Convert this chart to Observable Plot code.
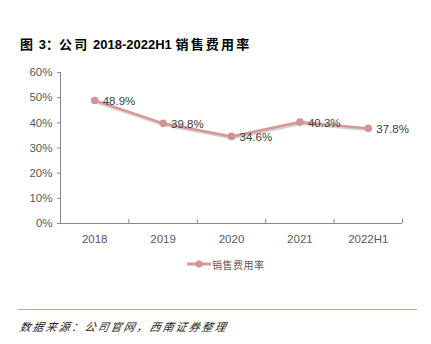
<!DOCTYPE html>
<html><head><meta charset="utf-8">
<script src="https://cdn.jsdelivr.net/npm/d3@7"></script>
<script src="https://cdn.jsdelivr.net/npm/@observablehq/plot@0.6"></script>
<style>
body{margin:0;background:#fff;width:431px;height:344px;overflow:hidden;position:relative;font-family:"Liberation Sans",Arial,sans-serif;}
#title{position:absolute;left:20px;top:34px;font-size:13px;font-weight:bold;color:#000;font-family:"Liberation Sans","Noto Sans CJK SC",sans-serif;white-space:nowrap}
#title .cj{letter-spacing:2.2px}
.hr{position:absolute;left:18px;width:399px;height:0;border-top:1.5px solid #dfa45e}
#chart{position:absolute;left:0;top:62px}
#legend{position:absolute;left:186px;top:256px;font-size:10px;color:#595959;font-family:"Noto Sans CJK SC",sans-serif;display:flex;align-items:center;letter-spacing:0.5px}
#source{position:absolute;left:20px;top:318px;font-size:11px;font-style:italic;color:#222;font-family:"Noto Sans CJK SC",sans-serif;letter-spacing:2px;transform:skewX(-12deg);transform-origin:left}
</style></head>
<body>
<div id="title"><span class="cj">图</span> 3：<span class="cj">公司</span> 2018-2022H1 <span class="cj">销售费用率</span></div>
<div class="hr" style="top:63px"></div>
<div id="chart"></div>
<div id="legend"><svg width="26" height="16"><line x1="1" y1="8" x2="25" y2="8" stroke="#d99694" stroke-width="3"/><circle cx="13" cy="8" r="3.5" fill="#d49391"/></svg><span>销售费用率</span></div>
<div class="hr" style="top:309px"></div>
<div id="source">数据来源：公司官网，西南证券整理</div>
<script>
const categories = ["2018","2019","2020","2021","2022H1"];
const values = [0.489, 0.398, 0.346, 0.403, 0.378];
const yTicks = [0, 0.1, 0.2, 0.3, 0.4, 0.5, 0.6];

const data = categories.map((c, i) => ({i, c, v: values[i]}));
const bounds = d3.range(categories.length + 1).map(k => k - 0.5);
const axisColor = "#898989";

const plot = Plot.plot({
  width: 431,
  height: 200,
  marginTop: 10,
  marginBottom: 39,
  marginLeft: 60,
  marginRight: 29,
  style: {fontFamily: "Liberation Sans, Arial, sans-serif", fontSize: "11px", color: "#595959", background: "white"},
  x: {type: "linear", domain: [-0.5, categories.length - 0.5]},
  y: {domain: [0, 0.6]},
  marks: [
    Plot.axisY({ticks: yTicks, tickFormat: d => Math.round(d * 100) + "%", tickSize: 3, tickPadding: 5, stroke: axisColor, fill: "#595959", label: null, fontSize: 11.5}),
    Plot.axisX({ticks: bounds, tickFormat: () => "", tickSize: -4, stroke: axisColor, label: null}),
    Plot.axisX({ticks: d3.range(categories.length), tickFormat: i => categories[i], tickSize: 0, tickPadding: 11, fill: "#595959", label: null, fontSize: 11.5}),
    Plot.ruleX([-0.5], {stroke: axisColor, strokeWidth: 1}),
    Plot.ruleY([0], {stroke: axisColor, strokeWidth: 1.2}),
    Plot.line(data, {x: "i", y: "v", stroke: "#7a7a7a", strokeWidth: 3, strokeOpacity: 0.35, dx: 1, dy: 1.5}),
    Plot.line(data, {x: "i", y: "v", stroke: "#d99694", strokeWidth: 2.5}),
    Plot.dot(data, {x: "i", y: "v", r: 3.8, fill: "#d49391", stroke: null}),
    Plot.text(data, {x: "i", y: "v", text: d => (d.v * 100).toFixed(1) + "%", dx: 8, dy: 1, textAnchor: "start", fill: "#404040", fontSize: 11.5})
  ]
});
document.getElementById("chart").appendChild(plot);
</script>
</body></html>
